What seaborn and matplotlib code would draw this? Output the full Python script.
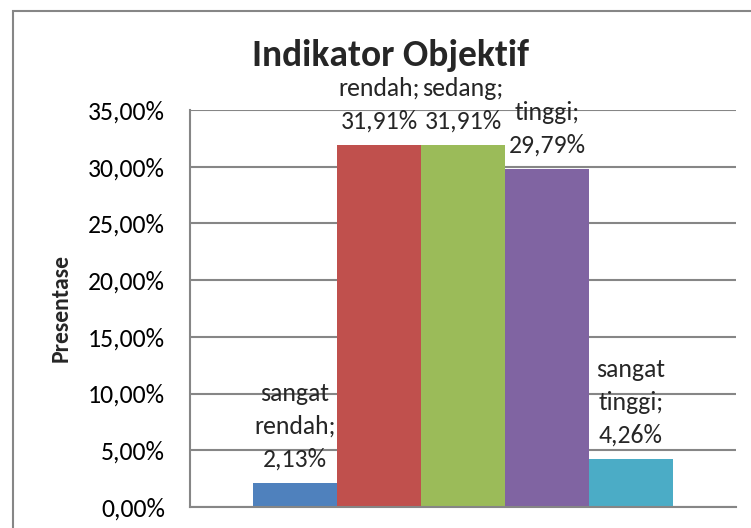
import matplotlib
matplotlib.use("Agg")
import matplotlib.pyplot as plt
import seaborn as sns
import pandas as pd
from matplotlib.patches import Rectangle
from matplotlib.ticker import FuncFormatter

kategori = ["sangat rendah", "rendah", "sedang", "tinggi", "sangat tinggi"]
nilai = [2.13, 31.91, 31.91, 29.79, 4.26]
label_teks = ["sangat\nrendah;\n2,13%", "rendah;\n31,91%", "sedang;\n31,91%",
              "tinggi;\n29,79%", "sangat\ntinggi;\n4,26%"]
warna = ["#4F81BD", "#C0504D", "#9BBB59", "#8064A2", "#4BACC6"]
y_ticks = [0, 5, 10, 15, 20, 25, 30, 35]

sns.set_theme(style="white")
plt.rcParams["font.family"] = ["Carlito", "Lato", "DejaVu Sans"]

df = pd.DataFrame({"kategori": kategori, "nilai": nilai})

fig = plt.figure(figsize=(7.51, 5.28), dpi=100)
ax = fig.add_axes([190/751, (528-507)/528, (736-190)/751, (507-110)/528])

sns.barplot(data=df, x="kategori", y="nilai", hue="kategori", palette=warna,
            width=1.0, legend=False, ax=ax, saturation=1, linewidth=0)

ax.set_xlim(-1.25, 5.25)
ax.set_ylim(0, 35)
ax.set_yticks(y_ticks)
ax.yaxis.set_major_formatter(FuncFormatter(lambda v, p: f"{v:.2f}%".replace(".", ",")))
ax.tick_params(axis="y", labelsize=18.5, length=0, pad=18, colors="black")
ax.set_xticks([])
ax.set_xlabel("")
ax.set_ylabel("Presentase", fontsize=17, fontweight="bold", labelpad=12)

ax.grid(axis="y", color="#868686", linewidth=1.5)
ax.set_axisbelow(True)
for s in ["top", "right"]:
    ax.spines[s].set_visible(False)
for s in ["left", "bottom"]:
    ax.spines[s].set_color("#868686")
    ax.spines[s].set_linewidth(1.5)

for patch, teks in zip(ax.patches, label_teks):
    cx = patch.get_x() + patch.get_width() / 2
    top = patch.get_height()
    ax.annotate(teks, xy=(cx, top), xytext=(0, 9), textcoords="offset points",
                ha="center", va="bottom", fontsize=18.5, linespacing=1.5,
                annotation_clip=False)

fig.text(390/751, 1 - 56/528, "Indikator Objektif", ha="center", va="center",
         fontsize=27, fontweight="bold")

fig.patches.append(Rectangle((13/751, -0.1), 2.0, 1 - 11/528 + 0.1,
                             transform=fig.transFigure, fill=False,
                             edgecolor="#868686", linewidth=1.5, zorder=0))

fig.savefig("out.png", dpi=100)
